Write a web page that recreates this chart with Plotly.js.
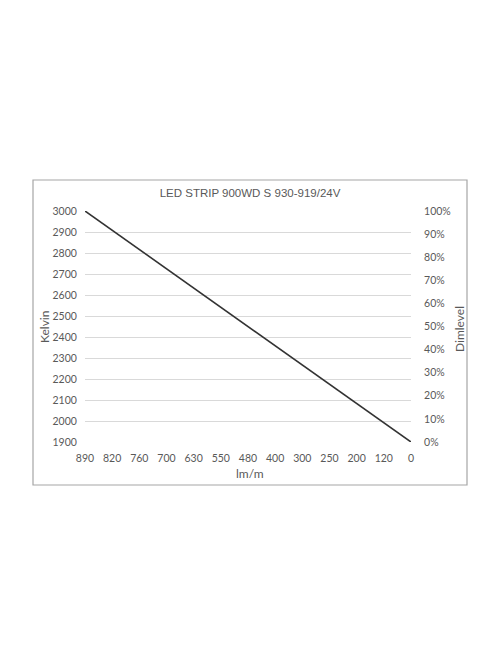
<!DOCTYPE html>
<html>
<head>
<meta charset="utf-8">
<script src="https://cdn.plot.ly/plotly-3.0.1.min.js"></script>
<style>
  html, body { margin: 0; padding: 0; background: #fff; }
  #chart { width: 500px; height: 667px; }
</style>
</head>
<body>
<div id="chart"></div>
<script>
// values
const lumens = ["890", "820", "760", "700", "630", "550", "480", "400", "300", "250", "200", "120", "0"];
const kelvin = [3000, 1900];
const dimLevel = [100, 0];
const lineEnds = [lumens[0], lumens[lumens.length - 1]];

const grey = "#595959";
const tickFont = { family: "Lato, 'Open Sans', sans-serif", size: 10.5, color: grey };
const titleFont = { family: "Lato, 'Open Sans', sans-serif", size: 12, color: grey };

const data = [
    {
        x: lineEnds,
        y: kelvin,
        type: "scatter",
        mode: "lines",
        line: { color: "#333333", width: 1.6 },
        hoverinfo: "skip",
    },
    {
        x: lineEnds,
        y: dimLevel,
        yaxis: "y2",
        type: "scatter",
        mode: "lines",
        line: { color: "rgba(0,0,0,0)", width: 0 },
        hoverinfo: "skip",
    },
];

const layout = {
    width: 500,
    height: 667,
    paper_bgcolor: "#ffffff",
    plot_bgcolor: "#ffffff",
    showlegend: false,
    margin: { l: 85, r: 89, t: 211, b: 225 },
    title: {
        text: "LED STRIP 900WD S 930-919/24V",
        font: { family: "'Liberation Sans', Arial, sans-serif", size: 11.5, color: grey },
        x: 0.5,
        xanchor: "center",
        y: 1 - 193 / 667,
        yanchor: "middle",
    },
    xaxis: {
        type: "category",
        categoryorder: "array",
        categoryarray: lumens,
        range: [0, lumens.length - 1],
        showgrid: false,
        zeroline: false,
        showline: false,
        ticks: "outside",
        ticklen: 6,
        tickcolor: "rgba(0,0,0,0)",
        tickfont: tickFont,
        fixedrange: true,
    },
    yaxis: {
        range: [1900, 3000],
        dtick: 100,
        tick0: 1900,
        showgrid: true,
        gridcolor: "#d9d9d9",
        gridwidth: 1,
        zeroline: false,
        showline: false,
        ticks: "outside",
        ticklen: 5,
        tickcolor: "rgba(0,0,0,0)",
        tickfont: tickFont,
        fixedrange: true,
    },
    yaxis2: {
        overlaying: "y",
        side: "right",
        range: [0, 100],
        dtick: 10,
        tick0: 0,
        ticksuffix: "%",
        showgrid: false,
        zeroline: false,
        showline: false,
        ticks: "outside",
        ticklen: 10,
        tickcolor: "rgba(0,0,0,0)",
        tickfont: tickFont,
        fixedrange: true,
    },
    // axis titles sit closer to the labels than plotly's standoff allows
    annotations: [
        {
            text: "Kelvin",
            xref: "paper", yref: "paper",
            x: (44 - 85) / 326, y: (442 - 327) / 231,
            xanchor: "center", yanchor: "middle",
            textangle: -90,
            showarrow: false,
            font: titleFont,
        },
        {
            text: "Dimlevel",
            xref: "paper", yref: "paper",
            x: (459 - 85) / 326, y: (442 - 329) / 231,
            xanchor: "center", yanchor: "middle",
            textangle: -90,
            showarrow: false,
            font: titleFont,
        },
        {
            text: "lm/m",
            xref: "paper", yref: "paper",
            x: (250 - 85) / 326, y: (442 - 473) / 231,
            xanchor: "center", yanchor: "middle",
            showarrow: false,
            font: titleFont,
        },
    ],
    shapes: [
        {
            type: "rect",
            xref: "paper",
            yref: "paper",
            x0: (33 - 85) / 326,
            x1: (467 - 85) / 326,
            y0: (442 - 485) / 231,
            y1: (442 - 180) / 231,
            line: { color: "#a6a6a6", width: 1.2 },
            fillcolor: "rgba(0,0,0,0)",
            layer: "below",
        },
    ],
};

const config = { responsive: false, displayModeBar: false, staticPlot: true };

Plotly.newPlot(document.getElementById("chart"), data, layout, config);
</script>
</body>
</html>
